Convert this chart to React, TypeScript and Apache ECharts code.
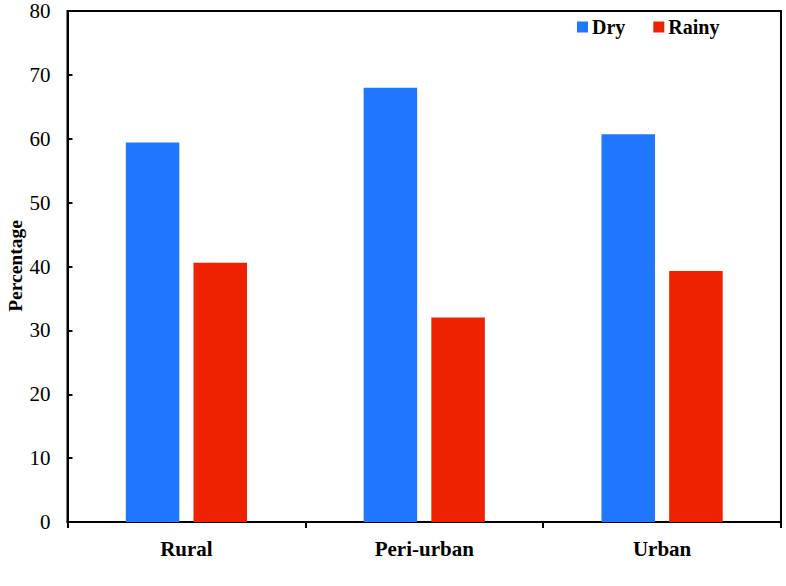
import React, { useEffect, useRef } from "react";
import * as echarts from "echarts";

const categories = ["Rural", "Peri-urban", "Urban"];
const dryValues = [59.4, 68.0, 60.7];
const rainyValues = [40.6, 32.0, 39.3];
const seriesNames = ["Dry", "Rainy"];
const yAxisTitle = "Percentage";
const yTicks = { min: 0, max: 80, interval: 10 };

const FONT = "'Liberation Serif', 'Times New Roman', serif";

export default function App() {
  const ref = useRef<HTMLDivElement>(null);

  useEffect(() => {
    if (!ref.current) return;
    const chart = echarts.init(ref.current, undefined, { renderer: "svg" });
    chart.setOption({
      animation: false,
      backgroundColor: "#ffffff",
      grid: {
        left: 67.5,
        right: 5,
        top: 11,
        bottom: 64,
        outerBoundsMode: "none",
        containLabel: false,
        show: true,
        borderColor: "#000",
        borderWidth: 2,
      },
      legend: {
        data: seriesNames,
        left: 577,
        top: 17,
        padding: 0,
        icon: "rect",
        itemWidth: 11,
        itemHeight: 11,
        itemGap: 28,
        textStyle: {
          fontFamily: FONT,
          fontWeight: "bold",
          fontSize: 20,
          color: "#000",
          padding: [0, 0, 0, -1],
        },
      },
      // rotated y-axis title on the left edge
      graphic: [
        {
          type: "text",
          x: 15,
          y: 266,
          rotation: Math.PI / 2,
          style: {
            text: yAxisTitle,
            fontFamily: FONT,
            fontWeight: "bold",
            fontSize: 19.5,
            fill: "#000",
            align: "center",
            verticalAlign: "middle",
          },
        },
      ],
      xAxis: {
        type: "category",
        data: categories,
        axisLine: { lineStyle: { color: "#000", width: 2 } },
        axisTick: {
          show: true,
          inside: false,
          length: 6,
          lineStyle: { color: "#000", width: 2 },
        },
        axisLabel: {
          fontFamily: FONT,
          fontWeight: "bold",
          fontSize: 21,
          color: "#000",
          margin: 16,
        },
      },
      yAxis: {
        type: "value",
        min: yTicks.min,
        max: yTicks.max,
        interval: yTicks.interval,
        splitLine: { show: false },
        axisLine: { show: true, lineStyle: { color: "#000", width: 2 } },
        axisTick: {
          show: true,
          inside: true,
          length: 5,
          lineStyle: { color: "#000", width: 2 },
        },
        axisLabel: {
          fontFamily: FONT,
          fontSize: 21,
          color: "#000",
          margin: 17,
        },
      },
      series: [
        {
          name: seriesNames[0],
          type: "bar",
          data: dryValues,
          barWidth: "22.5%",
          barGap: "26.5%",
          itemStyle: { color: "#2176ff" },
        },
        {
          name: seriesNames[1],
          type: "bar",
          data: rainyValues,
          barWidth: "22.5%",
          itemStyle: { color: "#ee2200" },
        },
      ],
    });
    return () => chart.dispose();
  }, []);

  return <div ref={ref} style={{ width: 786, height: 586, position: "absolute", left: 0, top: 0 }} />;
}
